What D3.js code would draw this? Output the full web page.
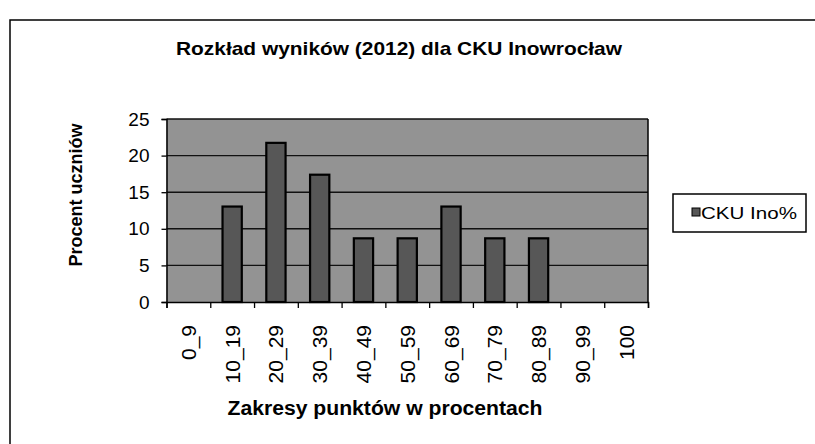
<!DOCTYPE html>
<html>
<head>
<meta charset="utf-8">
<script src="https://cdn.jsdelivr.net/npm/d3@7"></script>
<style>
  body { margin: 0; background: #fff; }
  text { font-family: "Liberation Sans", Arial, sans-serif; fill: #000; }
</style>
</head>
<body>
<div id="chart"></div>
<script>
// chart values
const categories = ["0_9", "10_19", "20_29", "30_39", "40_49", "50_59", "60_69", "70_79", "80_89", "90_99", "100"];
const values = [0, 13.04, 21.74, 17.39, 8.70, 8.70, 13.04, 8.70, 8.70, 0, 0];
const yTicks = [0, 5, 10, 15, 20, 25];
const seriesName = "CKU Ino%";

const titleText = "Rozkład wyników (2012) dla CKU Inowrocław";
const xTitle = "Zakresy punktów w procentach";
const yTitle = "Procent uczniów";

let svgWidth = 815;
let svgHeight = 444;

// plot area
let plot = { left: 166.5, right: 648, top: 119, bottom: 302 };

let svg = d3.select("#chart")
    .append("svg")
    .attr("width", svgWidth)
    .attr("height", svgHeight);

svg.append("rect")
    .attr("width", svgWidth)
    .attr("height", svgHeight)
    .attr("fill", "#fff");

// outer chart frame (runs off the page right and bottom)
svg.append("rect")
    .attr("x", 10)
    .attr("y", 20)
    .attr("width", 900)
    .attr("height", 600)
    .attr("fill", "none")
    .attr("stroke", "#000")
    .attr("stroke-width", 1.5);

// scales
let xScale = d3.scaleBand()
    .domain(categories)
    .range([plot.left, plot.right]);

let yScale = d3.scaleLinear()
    .domain([0, 25])
    .range([plot.bottom, plot.top]);

// plot background
svg.append("rect")
    .attr("x", plot.left)
    .attr("y", plot.top)
    .attr("width", plot.right - plot.left)
    .attr("height", plot.bottom - plot.top)
    .attr("fill", "#939393");

// gridlines
svg.append("g")
    .selectAll("line")
    .data(yTicks.filter(t => t > 0))
    .enter()
    .append("line")
    .attr("x1", plot.left)
    .attr("x2", plot.right)
    .attr("y1", d => yScale(d))
    .attr("y2", d => yScale(d))
    .attr("stroke", "#111")
    .attr("stroke-width", 1.4);

// right border of plot
svg.append("line")
    .attr("x1", plot.right).attr("x2", plot.right)
    .attr("y1", plot.top).attr("y2", plot.bottom)
    .attr("stroke", "#000").attr("stroke-width", 1.5);

// bars
let bw = xScale.bandwidth();
svg.append("g")
    .selectAll("rect")
    .data(values.map((v, i) => ({ cat: categories[i], v: v })).filter(d => d.v > 0))
    .enter()
    .append("rect")
    .attr("x", d => xScale(d.cat) + bw * 0.28)
    .attr("width", bw * 0.44)
    .attr("y", d => yScale(d.v))
    .attr("height", d => yScale(0) - yScale(d.v))
    .attr("fill", "#575757")
    .attr("stroke", "#000")
    .attr("stroke-width", 2.2);

// y axis
let leftAxis = d3.axisLeft(yScale).tickValues(yTicks).tickSize(5).tickPadding(12);
let yAxis = svg.append("g")
    .attr("transform", `translate(${plot.left},0)`)
    .call(leftAxis);
yAxis.select(".domain").attr("stroke", "#000").attr("stroke-width", 1.5);
yAxis.selectAll("line").attr("stroke-width", 1.3);
yAxis.selectAll("text")
    .style("font-size", "19px")
    .attr("fill", "#000");

// x axis: boundary ticks
let edgeScale = d3.scaleLinear().domain([0, categories.length]).range([plot.left, plot.right]);
let edgeAxis = d3.axisBottom(edgeScale)
    .tickValues(d3.range(categories.length + 1))
    .tickSize(6)
    .tickFormat("");
let xAxis = svg.append("g")
    .attr("transform", `translate(0,${plot.bottom})`)
    .call(edgeAxis);
xAxis.select(".domain").attr("stroke", "#000").attr("stroke-width", 1.5);
xAxis.selectAll("line").attr("stroke-width", 1.3);

// x labels, rotated
let bottomAxis = d3.axisBottom(xScale).tickSize(0).tickPadding(0);
let xLabels = svg.append("g")
    .attr("transform", `translate(0,${plot.bottom})`)
    .call(bottomAxis);
xLabels.select(".domain").remove();
xLabels.selectAll("text")
    .style("font-size", "21px")
    .attr("fill", "#000")
    .attr("text-anchor", "end")
    .attr("y", 0)
    .attr("dy", "0.36em")
    .attr("transform", "translate(0,23) rotate(-90)");

// titles
svg.append("text")
    .attr("x", 399)
    .attr("y", 55)
    .attr("text-anchor", "middle")
    .style("font-size", "19px")
    .style("font-weight", "bold")
    .attr("textLength", 446)
    .attr("lengthAdjust", "spacingAndGlyphs")
    .text(titleText);

svg.append("text")
    .attr("x", 385)
    .attr("y", 415)
    .attr("text-anchor", "middle")
    .style("font-size", "20px")
    .style("font-weight", "bold")
    .attr("textLength", 315)
    .attr("lengthAdjust", "spacingAndGlyphs")
    .text(xTitle);

svg.append("text")
    .attr("transform", "translate(82,195) rotate(-90)")
    .attr("text-anchor", "middle")
    .style("font-size", "18px")
    .style("font-weight", "bold")
    .text(yTitle);

// legend
let legend = svg.append("g");
legend.append("rect")
    .attr("x", 673)
    .attr("y", 194)
    .attr("width", 133)
    .attr("height", 38)
    .attr("fill", "#fff")
    .attr("stroke", "#000")
    .attr("stroke-width", 1.5);
legend.append("rect")
    .attr("x", 692)
    .attr("y", 208)
    .attr("width", 8)
    .attr("height", 8)
    .attr("fill", "#575757")
    .attr("stroke", "#000")
    .attr("stroke-width", 1);
legend.append("text")
    .attr("x", 701)
    .attr("y", 219)
    .style("font-size", "17px")
    .attr("textLength", 96)
    .attr("lengthAdjust", "spacingAndGlyphs")
    .text(seriesName);
</script>
</body>
</html>
